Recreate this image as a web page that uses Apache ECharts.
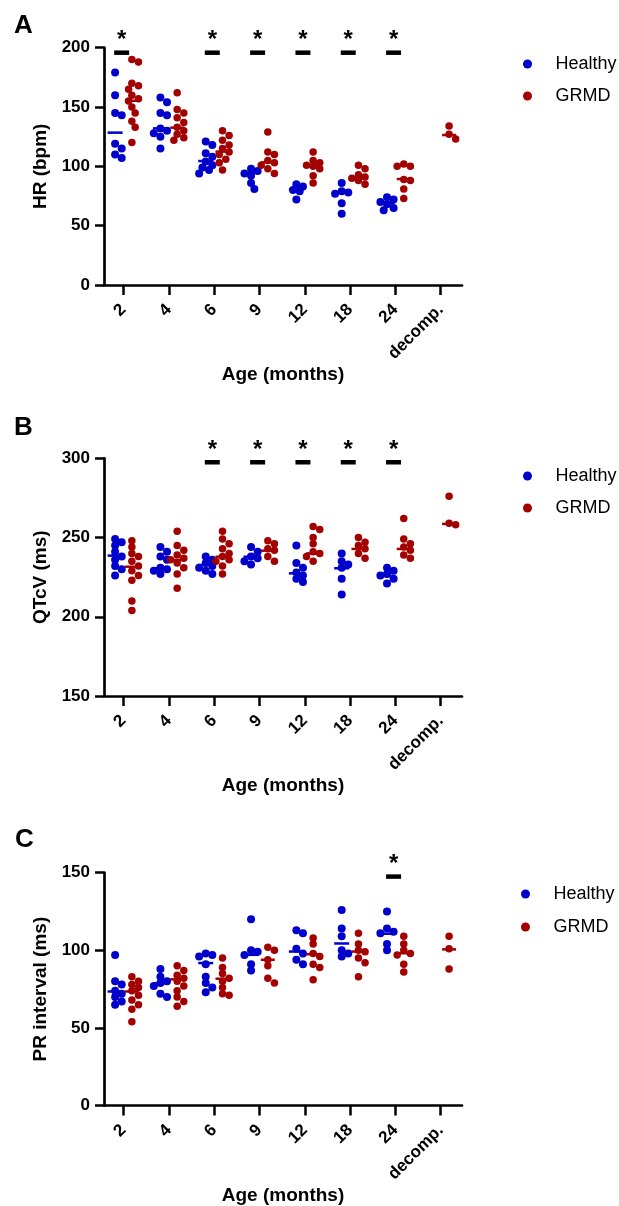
<!DOCTYPE html>
<html>
<head>
<meta charset="utf-8">
<script src="https://cdn.jsdelivr.net/npm/echarts@6/dist/echarts.min.js"></script>
<style>html,body{margin:0;padding:0;background:#fff}#c{width:619px;height:1206px}</style>
</head>
<body>
<div id="c"></div>
<script>
// ---------- DATA ----------
const categories = ['2', '4', '6', '9', '12', '18', '24', 'decomp.'];

// Panel A: HR (bpm)
const hrHealthy = [
  [179, 160, 145, 143, 119, 115, 110, 107],
  [158, 154, 145, 143, 132, 130, 128, 125, 115],
  [121, 118, 111, 108, 104, 101, 99, 97, 94],
  [98, 96, 94, 92, 86, 81],
  [85, 83, 80, 79, 72],
  [86, 79, 78, 77, 69, 60],
  [74, 72, 70, 68, 65, 63],
  []
];
const hrGrmd = [
  [190, 188, 170, 168, 165, 160, 157, 155, 150, 145, 138, 133, 120],
  [162, 148, 145, 141, 137, 133, 130, 127, 124, 122],
  [130, 126, 122, 118, 115, 112, 110, 106, 103, 97],
  [129, 112, 110, 105, 103, 101, 98, 94],
  [112, 105, 103, 101, 100, 98, 92, 86],
  [101, 98, 93, 91, 90, 88, 85],
  [102, 100, 100, 89, 88, 81, 73],
  [134, 127, 123]
];
const hrHealthyMean = [128.4, 132, 104.5, 94.7, 80.6, 77.8, 68.8, null];
const hrGrmdMean = [155.3, 132.6, 112.4, 103.4, 101, 90.7, 89.3, 126.4];
const hrSig = [0, 2, 3, 4, 5, 6];
const hrSigLevel = 195.8;

// Panel B: QTcV (ms)
const qtHealthy = [
  [249, 247, 245, 241, 238, 236, 232, 230, 226],
  [244, 241, 238, 236, 231, 230, 229, 227],
  [238, 236, 234, 232, 231, 229, 227],
  [244, 241, 238, 237, 235, 233],
  [245, 234, 231, 228, 226, 224, 222],
  [240, 235, 233, 231, 224, 214],
  [231, 229, 227, 226, 224, 221],
  []
];
const qtGrmd = [
  [248, 244, 240, 238, 235, 232, 229, 226, 223, 210, 204],
  [254, 245, 242, 239, 237, 236, 234, 231, 227, 218],
  [254, 249, 246, 243, 240, 238, 236, 235, 232, 227],
  [248, 246, 243, 242, 238, 235],
  [257, 255, 250, 246, 241, 240, 238, 235],
  [250, 247, 245, 243, 240, 237],
  [262, 249, 246, 244, 242, 239, 237],
  [276, 259, 258]
];
const qtHealthyMean = [238.6, 230.6, 232.7, 237.9, 227.4, 230.6, 225.7, null];
const qtGrmdMean = [231.6, 235.8, 237.9, 241.7, 240, 242.8, 242.8, 258.6];
const qtSig = [2, 3, 4, 5, 6];
const qtSigLevel = 297.5;

// Panel C: PR interval (ms)
const prHealthy = [
  [97, 80, 78, 74, 72, 70, 67, 65],
  [88, 83, 80, 79, 77, 72, 70],
  [98, 97, 96, 91, 83, 79, 76, 73],
  [120, 100, 99, 97, 91, 87],
  [113, 111, 101, 98, 94, 91],
  [126, 114, 109, 100, 98, 96],
  [125, 114, 112, 111, 104, 100],
  []
];
const prGrmd = [
  [83, 80, 78, 76, 74, 71, 68, 65, 62, 54],
  [90, 87, 84, 82, 80, 77, 74, 70, 67, 64],
  [95, 89, 85, 82, 80, 76, 72, 71],
  [102, 100, 94, 90, 82, 79],
  [108, 104, 98, 96, 91, 89, 81],
  [111, 104, 100, 99, 95, 92, 83],
  [109, 104, 100, 98, 97, 91, 86],
  [109, 101, 88]
];
const prHealthyMean = [73.5, 78.8, 91.8, 97.1, 99.2, 104.4, 110.7, null];
const prGrmdMean = [73.5, 81.3, 81.7, 93.9, 97.5, 99.2, 98.1, 100.6];
const prSig = [6];
const prSigLevel = 147.5;

// ---------- STYLE / LAYOUT ----------
const FONT = 'Liberation Sans, Arial, Helvetica, sans-serif';
const BLUE = '#0000cc';
const RED = '#a30000';
const X_MIN = -0.43, X_MAX = 7.47;
const GRID_W = 358;
const XPX = GRID_W / (X_MAX - X_MIN);
const GROUP_OFF = 0.185;
const panels = [
  { name: 'HR (bpm)', top: 47.7, h: 237.3, min: 0, max: 200, h1: hrHealthy, g1: hrGrmd, hm: hrHealthyMean, gm: hrGrmdMean, sig: hrSig, sigY: hrSigLevel, legTop: 50, legGap: 14, legLeft: 518 },
  { name: 'QTcV (ms)', top: 458.3, h: 237.7, min: 150, max: 300, h1: qtHealthy, g1: qtGrmd, hm: qtHealthyMean, gm: qtGrmdMean, sig: qtSig, sigY: qtSigLevel, legTop: 462, legGap: 14, legLeft: 518 },
  { name: 'PR interval (ms)', top: 872.7, h: 238, min: 0, max: 150, h1: prHealthy, g1: prGrmd, hm: prHealthyMean, gm: prGrmdMean, sig: prSig, sigY: prSigLevel, legTop: 880, legGap: 15, legLeft: 516 }
];

// deterministic beeswarm layout (pixel space) to avoid overlaps
function swarm(vals, base, yPx) {
  const STEP = 3.3, MIND = 6.2, KMAX = 5;
  const placed = [];
  const order = vals.map((v, i) => i).sort((a, b) => vals[b] - vals[a]);
  const out = new Array(vals.length);
  order.forEach(i => {
    const y = vals[i] * yPx;
    let best = 0, bestD = -1;
    for (let k = 0; k < KMAX; k++) {
      const off = (k % 2 ? 1 : -1) * Math.ceil(k / 2) * STEP;
      let d = Infinity;
      placed.forEach(p => { d = Math.min(d, Math.hypot(p.x - off, p.y - y)); });
      if (d >= MIND) { best = off; bestD = d; break; }
      if (d > bestD) { bestD = d; best = off; }
    }
    placed.push({ x: best, y: y });
    out[i] = base + best / XPX;
  });
  return out;
}

function points(groups, side, yPx) {
  const res = [];
  groups.forEach((vals, ci) => {
    const xs = swarm(vals, ci + side * GROUP_OFF, yPx);
    vals.forEach((v, j) => res.push([xs[j], v]));
  });
  return res;
}
function means(arr, side) {
  const res = [];
  arr.forEach((v, ci) => { if (v != null) res.push([ci + side * GROUP_OFF, v]); });
  return res;
}

const option = {
  animation: false,
  textStyle: { fontFamily: FONT },
  title: [
    { text: 'A', left: 9, top: 8 },
    { text: 'B', left: 9, top: 410 },
    { text: 'C', left: 10, top: 822 }
  ].map(t => Object.assign(t, { textStyle: { fontSize: 26, fontWeight: 'bold', color: '#000', fontFamily: FONT } })),
  legend: panels.map(p => ({
    orient: 'vertical', left: p.legLeft, top: p.legTop,
    itemWidth: 46, itemHeight: 9, itemGap: p.legGap,
    icon: 'circle',
    data: ['Healthy', 'GRMD'],
    textStyle: { fontSize: 18, color: '#000', fontFamily: FONT },
    selectedMode: false
  })),
  grid: panels.map(p => ({ left: 104, top: p.top, width: GRID_W, height: p.h, containLabel: false })),
  xAxis: panels.map((p, i) => ({
    type: 'value', gridIndex: i, min: X_MIN, max: X_MAX,
    name: 'Age (months)', nameLocation: 'middle', nameGap: 76,
    nameTextStyle: { fontSize: 19, fontWeight: 'bold', color: '#000', fontFamily: FONT },
    axisLine: { show: true, onZero: false, lineStyle: { color: '#000', width: 2.7 } },
    axisTick: { show: true, customValues: [0, 1, 2, 3, 4, 5, 6, 7], length: 10, lineStyle: { color: '#000', width: 2.5 } },
    axisLabel: {
      customValues: [0, 1, 2, 3, 4, 5, 6, 7], rotate: 45, margin: 22,
      formatter: v => categories[Math.round(v)],
      fontSize: 17, fontWeight: 'bold', color: '#000', fontFamily: FONT
    },
    splitLine: { show: false }
  })),
  yAxis: panels.map((p, i) => ({
    type: 'value', gridIndex: i, min: p.min, max: p.max, interval: 50,
    name: p.name, nameLocation: 'middle', nameGap: 45,
    nameTextStyle: { fontSize: 19, fontWeight: 'bold', color: '#000', fontFamily: FONT },
    axisLine: { show: true, onZero: false, lineStyle: { color: '#000', width: 2.7 } },
    axisTick: { show: true, length: 9, lineStyle: { color: '#000', width: 2.5 } },
    axisLabel: { fontSize: 17, fontWeight: 'bold', color: '#000', margin: 14, fontFamily: FONT },
    splitLine: { show: false }
  })),
  series: []
};

panels.forEach((p, i) => {
  const yPx = p.h / (p.max - p.min);
  option.series.push(
    { name: 'Healthy', type: 'scatter', xAxisIndex: i, yAxisIndex: i, symbolSize: 8, itemStyle: { color: BLUE, opacity: 1 }, data: points(p.h1, -1, yPx), z: 2 },
    { name: 'GRMD', type: 'scatter', xAxisIndex: i, yAxisIndex: i, symbolSize: 7.5, itemStyle: { color: RED, opacity: 1 }, data: points(p.g1, 1, yPx), z: 2 },
    { name: 'Healthy mean', type: 'scatter', xAxisIndex: i, yAxisIndex: i, symbol: 'rect', symbolSize: [15, 2.5], itemStyle: { color: BLUE, opacity: 1 }, data: means(p.hm, -1), z: 3 },
    { name: 'GRMD mean', type: 'scatter', xAxisIndex: i, yAxisIndex: i, symbol: 'rect', symbolSize: [14, 2.5], itemStyle: { color: RED, opacity: 1 }, data: means(p.gm, 1), z: 3 },
    { name: 'sig', type: 'scatter', xAxisIndex: i, yAxisIndex: i, symbol: 'rect', symbolSize: [15, 4.5], itemStyle: { color: '#000', opacity: 1 },
      data: p.sig.map(ci => [ci - 0.04, p.sigY]), z: 3, clip: false,
      label: { show: true, formatter: '*', position: 'inside', offset: [0, -12], verticalAlign: 'middle', align: 'center', fontSize: 24, fontWeight: 'bold', color: '#000', opacity: 1, fontFamily: FONT } }
  );
});

const chart = echarts.init(document.getElementById('c'), null, { renderer: 'canvas' });
chart.setOption(option);
</script>
</body>
</html>
